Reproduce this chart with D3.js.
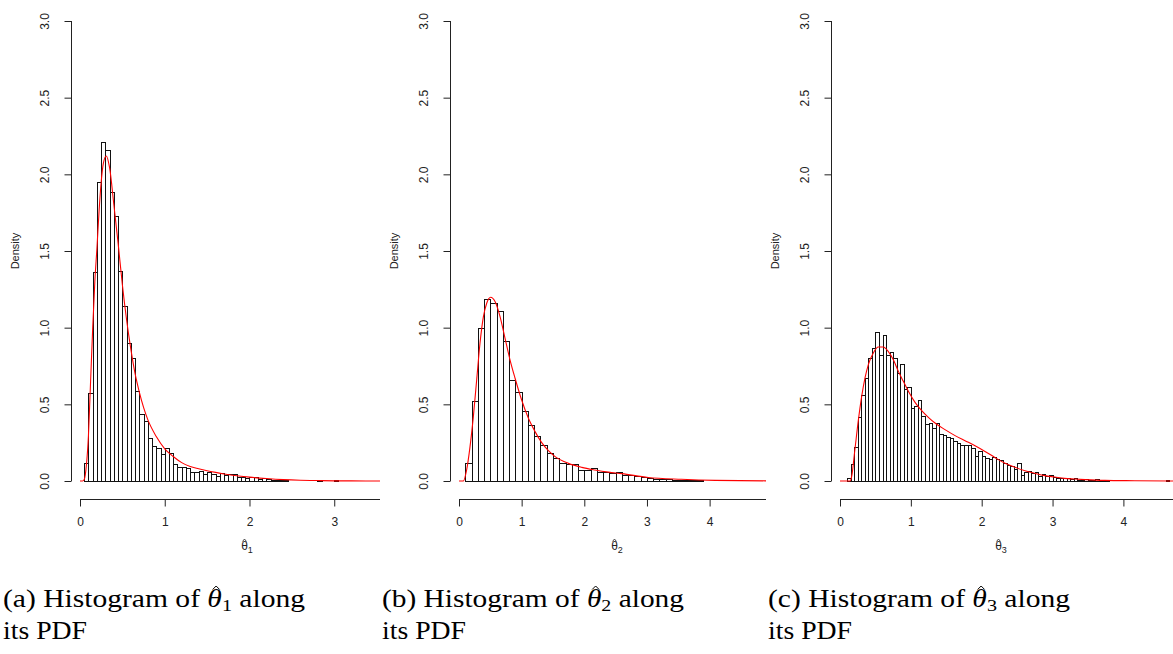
<!DOCTYPE html>
<html>
<head>
<meta charset="utf-8">
<script src="https://cdn.jsdelivr.net/npm/d3@7"></script>
<style>
  body { margin: 0; background: #fff; }
  svg text { font-family: "Liberation Sans", Arial, sans-serif; }
  .cap { font-family: "Liberation Serif", "DejaVu Serif", serif; font-size: 25px; }
</style>
</head>
<body>
<svg width="1173" height="654"></svg>
<script>
// histogram densities, one array per panel
var binStart1 = 0.05, binWidth1 = 0.05;
var dens1 = [0.115, 0.574, 1.365, 1.952, 2.21, 2.16, 1.883, 1.728, 1.372, 1.143,
  0.902, 0.804, 0.589, 0.435, 0.393, 0.278, 0.226, 0.217, 0.176, 0.213,
  0.185, 0.109, 0.089, 0.089, 0.083, 0.061, 0.061, 0.063, 0.048, 0.057,
  0.043, 0.035, 0.052, 0.037, 0.048, 0.043, 0.028, 0.024, 0.022, 0.024,
  0.024, 0.015, 0.017, 0.011, 0.007, 0.005, 0.004, 0.004, 0.002, 0.003,
  0.002, 0.001, 0.001, 0.001, 0.002, 0.004, 0.001, 0.003, 0.001, 0.004, 0.001];

var binStart2 = 0, binWidth2 = 0.1;
var dens2 = [0.003, 0.115, 0.522, 0.996, 1.185, 1.159, 1.111, 0.913, 0.657, 0.578,
  0.459, 0.363, 0.296, 0.233, 0.183, 0.148, 0.115, 0.113, 0.111, 0.074,
  0.072, 0.087, 0.061, 0.059, 0.052, 0.056, 0.041, 0.037, 0.033, 0.024,
  0.020, 0.015, 0.013, 0.011, 0.007, 0.007, 0.005, 0.004, 0.004, 0.003,
  0.002, 0.001, 0.001];

var binStart3 = 0.1, binWidth3 = 0.05;
var dens3 = [0.017, 0.111, 0.222, 0.417, 0.559, 0.67, 0.80, 0.865, 0.975, 0.823,
  0.95, 0.825, 0.839, 0.805, 0.705, 0.76, 0.60, 0.61, 0.478, 0.487,
  0.53, 0.426, 0.372, 0.378, 0.343, 0.376, 0.309, 0.30, 0.29, 0.28,
  0.262, 0.25, 0.237, 0.232, 0.237, 0.215, 0.165, 0.198, 0.16, 0.15,
  0.145, 0.155, 0.145, 0.135, 0.115, 0.104, 0.098, 0.076, 0.117, 0.041,
  0.057, 0.067, 0.05, 0.057, 0.03, 0.048, 0.033, 0.041, 0.028, 0.017,
  0.02, 0.022, 0.02, 0.013, 0.022, 0.009, 0.004, 0.013, 0.004, 0.007,
  0.015, 0.009, 0.009, 0.009, 0.003, 0.002, 0.003, 0.001, 0.002, 0.001,
  0.001, 0.001, 0.001, 0, 0, 0, 0, 0, 0, 0, 0.004];

// fitted pdf, points
var pdfX1 = [0, 0.03, 0.05, 0.075, 0.1, 0.125, 0.15, 0.175, 0.2, 0.225, 0.25, 0.275, 0.31, 0.35,
  0.4, 0.45, 0.5, 0.55, 0.6, 0.65, 0.7, 0.75, 0.8, 0.9, 1.0, 1.1, 1.2, 1.3, 1.4, 1.5,
  1.6, 1.7, 1.8, 1.9, 2.0, 2.2, 2.4, 2.6, 2.8, 3.0, 3.2, 3.54];
var pdfY1 = [0, 0, 0.01, 0.1, 0.3, 0.65, 1.0, 1.3, 1.52, 1.76, 1.95, 2.07, 2.12, 2.04,
  1.8, 1.55, 1.28, 1.05, 0.86, 0.7, 0.58, 0.48, 0.4, 0.29, 0.21, 0.16, 0.12, 0.095, 0.08, 0.067,
  0.056, 0.046, 0.038, 0.031, 0.025, 0.016, 0.009, 0.005, 0.003, 0.001, 0.0005, 0];

var pdfX2 = [0, 0.07, 0.122, 0.176, 0.229, 0.282, 0.335, 0.389, 0.442, 0.506, 0.575, 0.655,
  0.735, 0.815, 0.895, 1.0, 1.108, 1.214, 1.32, 1.427, 1.534, 1.746, 1.96, 2.17, 2.385,
  2.6, 3.02, 3.55, 4.09, 4.9];
var pdfY2 = [0, 0, 0.072, 0.224, 0.42, 0.659, 0.898, 1.07, 1.159, 1.198, 1.17, 1.072,
  0.93, 0.789, 0.67, 0.528, 0.409, 0.322, 0.25, 0.198, 0.159, 0.115, 0.089, 0.072, 0.058,
  0.048, 0.023, 0.011, 0.004, 0.001];

var pdfX3 = [0, 0.14, 0.165, 0.21, 0.26, 0.306, 0.353, 0.4, 0.47, 0.54, 0.61, 0.68, 0.753,
  0.824, 0.894, 0.965, 1.059, 1.153, 1.247, 1.341, 1.482, 1.624, 1.765, 1.906, 2.047, 2.19,
  2.33, 2.47, 2.61, 2.75, 2.89, 3.03, 3.17, 3.31, 3.46, 3.74, 4.16, 4.7];
var pdfY3 = [0, 0, 0.03, 0.204, 0.4, 0.552, 0.672, 0.759, 0.835, 0.874, 0.874, 0.846, 0.791,
  0.715, 0.65, 0.585, 0.513, 0.459, 0.415, 0.378, 0.335, 0.296, 0.263, 0.23, 0.193, 0.152,
  0.115, 0.089, 0.067, 0.05, 0.035, 0.026, 0.017, 0.013, 0.009, 0.004, 0.002, 0];

var yTicks = [0, 0.5, 1, 1.5, 2, 2.5, 3];

var svg = d3.select('svg');

// draw a small circumflex over the theta of a text element
function addHat(textSel, w, h, dx, gap, sw) {
  var node = textSel.node();
  var idx = node.textContent.indexOf('\u03b8');
  var e = node.getExtentOfChar(idx);
  var cx = e.x + e.width / 2 + dx;
  var top = e.y + gap;
  svg.append('path')
    .attr('d', 'M' + (cx - w / 2) + ',' + (top + h) + 'L' + cx + ',' + top + 'L' + (cx + w / 2) + ',' + (top + h))
    .attr('fill', 'none')
    .attr('stroke', textSel.attr('fill') || '#000')
    .attr('stroke-width', sw);
}

function drawPanel(p) {
  var x = d3.scaleLinear().domain([0, p.xmax]).range([p.x0, p.x1]);
  var y = d3.scaleLinear().domain([0, 3]).range([481, 21]);
  var g = svg.append('g');

  var bins = p.dens.map(function (d, i) {
    return { a: p.start + i * p.w, b: p.start + (i + 1) * p.w, v: d };
  });

  g.append('g').selectAll('rect')
    .data(bins)
    .enter()
    .append('rect')
    .attr('x', function (d) { return Math.round(x(d.a)) + 0.5; })
    .attr('width', function (d) { return Math.round(x(d.b)) - Math.round(x(d.a)); })
    .attr('y', function (d) { return Math.round(y(d.v)) + 0.5; })
    .attr('height', function (d) { return Math.round(y(0)) - Math.round(y(d.v)); })
    .attr('fill', '#fff')
    .attr('stroke', '#111')
    .attr('stroke-width', 1);

  var line = d3.line()
    .x(function (d) { return x(d[0]); })
    .y(function (d) { return y(d[1]); })
    .curve(d3.curveMonotoneX);
  g.append('path')
    .datum(d3.zip(p.pdfX, p.pdfY))
    .attr('d', line)
    .attr('fill', 'none')
    .attr('stroke', '#f00')
    .attr('stroke-width', 1.1);

  // y axis, R style with rotated labels
  var ax = Math.round(p.x0) - 8.5;
  var yAxis = g.append('g')
    .attr('transform', 'translate(' + ax + ',0)')
    .call(d3.axisLeft(y).tickValues(yTicks).tickFormat(d3.format('.1f')).tickSize(7));
  yAxis.select('.domain').remove();
  yAxis.selectAll('line').attr('stroke', '#222');
  yAxis.selectAll('text')
    .attr('transform', 'rotate(-90)')
    .attr('x', 0).attr('y', -22.5).attr('dy', 0)
    .attr('text-anchor', 'middle')
    .style('font-size', '12px').attr('fill', '#222');
  yAxis.append('line')
    .attr('x1', 0).attr('x2', 0)
    .attr('y1', y(0)).attr('y2', y(3))
    .attr('stroke', '#222');

  // x axis
  var xAxis = g.append('g')
    .attr('transform', 'translate(0,499.5)')
    .call(d3.axisBottom(x).tickValues(p.xTicks).tickFormat(d3.format('d')).tickSize(7));
  xAxis.select('.domain').remove();
  xAxis.selectAll('line').attr('stroke', '#222');
  xAxis.selectAll('text')
    .attr('y', 26).attr('dy', 0)
    .style('font-size', '12px').attr('fill', '#222');
  xAxis.append('line')
    .attr('x1', x(0)).attr('x2', p.x1)
    .attr('stroke', '#222');

  g.append('text')
    .attr('transform', 'translate(' + (ax - 53) + ',251) rotate(-90)')
    .attr('text-anchor', 'middle')
    .style('font-size', '11px')
    .attr('fill', '#222')
    .text('Density');

  var xl = svg.append('text')
    .attr('x', p.labelX).attr('y', 550)
    .attr('text-anchor', 'middle')
    .style('font-size', '12px')
    .attr('fill', '#222');
  xl.append('tspan').text('\u03b8');
  xl.append('tspan').attr('dy', 3).style('font-size', '9px').text(p.sub);
  addHat(xl, 4, 2.5, 0, 0, 0.8);

  // caption below
  var cap = svg.append('text').attr('class', 'cap').attr('x', p.capX).attr('y', 607)
    .attr('fill', '#000')
    .attr('textLength', 302).attr('lengthAdjust', 'spacingAndGlyphs');
  cap.append('tspan').text('(' + p.letter + ') Histogram of ');
  cap.append('tspan').style('font-style', 'italic').text('\u03b8');
  cap.append('tspan').attr('dy', 4).style('font-size', '17px').text(p.sub);
  cap.append('tspan').attr('dy', -4).text(' along');
  addHat(cap, 7, 3.5, 1.5, 1, 1);
  svg.append('text').attr('class', 'cap').attr('x', p.capX).attr('y', 639)
    .attr('textLength', 84).attr('lengthAdjust', 'spacingAndGlyphs')
    .text('its PDF');
}

drawPanel({ dens: dens1, start: binStart1, w: binWidth1, pdfX: pdfX1, pdfY: pdfY1,
  xmax: 3.54, x0: 80, x1: 380, xTicks: [0, 1, 2, 3], labelX: 247, sub: '1', letter: 'a', capX: 3 });
drawPanel({ dens: dens2, start: binStart2, w: binWidth2, pdfX: pdfX2, pdfY: pdfY2,
  xmax: 4.9, x0: 459, x1: 766, xTicks: [0, 1, 2, 3, 4], labelX: 617, sub: '2', letter: 'b', capX: 382 });
drawPanel({ dens: dens3, start: binStart3, w: binWidth3, pdfX: pdfX3, pdfY: pdfY3,
  xmax: 4.7, x0: 840, x1: 1173, xTicks: [0, 1, 2, 3, 4], labelX: 1001, sub: '3', letter: 'c', capX: 768 });
</script>
</body>
</html>
